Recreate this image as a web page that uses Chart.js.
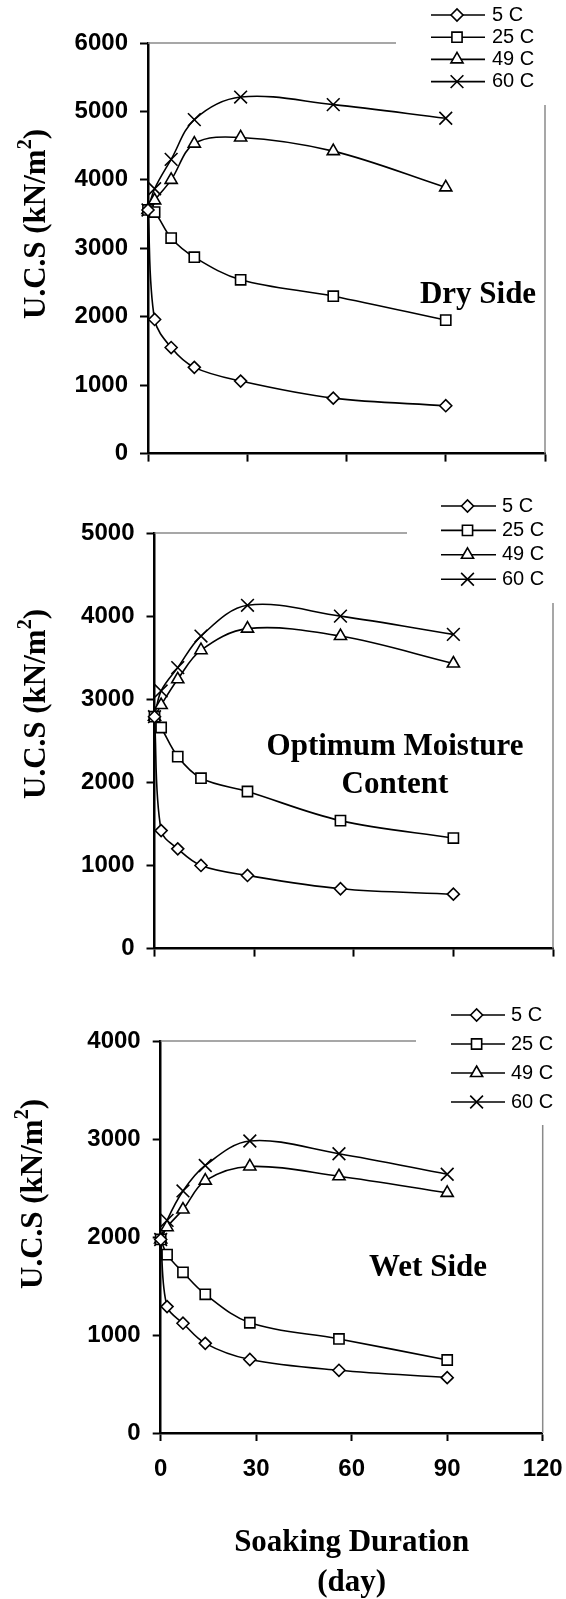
<!DOCTYPE html>
<html>
<head>
<meta charset="utf-8">
<script src="https://cdn.jsdelivr.net/npm/chart.js"></script>
<style>
    html, body { margin: 0; padding: 0; background: #fff; overflow: hidden; }
    #lienzo { position: relative; width: 566px; height: 1599px; overflow: hidden; }
    canvas { position: absolute; left: 0; }
</style>
</head>
<body>
<div id="lienzo">
    <canvas id="graf1"></canvas>
    <canvas id="graf2"></canvas>
    <canvas id="graf3"></canvas>
</div>
<script>
// 📊 datos (U.C.S en kN/m2 vs días de inmersión)
const dias = [0, 2, 7, 14, 28, 56, 90];
const temperaturas = ["5 C", "25 C", "49 C", "60 C"];
const ticksDias = [0, 30, 60, 90, 120];
const maximosY = [6000, 5000, 4000];

// Dry Side
const seco5C  = [3560, 1960, 1550, 1260, 1060, 810, 700];
const seco25C = [3560, 3530, 3150, 2870, 2540, 2300, 1950];
const seco49C = [3560, 3700, 4000, 4530, 4620, 4420, 3890];
const seco60C = [3560, 3870, 4300, 4880, 5210, 5100, 4900];

// Optimum Moisture Content
const optimo5C  = [2790, 1420, 1200, 1000, 880, 720, 655];
const optimo25C = [2790, 2660, 2310, 2050, 1890, 1540, 1330];
const optimo49C = [2790, 2930, 3240, 3590, 3850, 3760, 3430];
const optimo60C = [2790, 3100, 3380, 3760, 4130, 4000, 3780];

// Wet Side
const humedo5C  = [1975, 1290, 1120, 915, 750, 640, 565];
const humedo25C = [1975, 1820, 1640, 1415, 1125, 960, 745];
const humedo49C = [1975, 2100, 2280, 2575, 2720, 2620, 2450];
const humedo60C = [1975, 2170, 2470, 2730, 2980, 2850, 2640];

// textos
const tituloEjeY = ["U.C.S (kN/m", "2", ")"];
const tituloEjeX = ["Soaking Duration", "(day)"];
const notas = [["Dry Side"], ["Optimum Moisture", "Content"], ["Wet Side"]];

// 🔥 estilo de marcadores (rombo, cuadrado, triangulo, x)
const marcadores = ["rectRot", "rect", "triangle", "crossRot"];
const radios = [6, 7.2, 7, 9];

const fuenteTicks = { family: "'Liberation Sans', Arial, sans-serif", weight: "bold", size: 24 };
const serif = "'Liberation Serif', 'Times New Roman', serif";

// 📐 posiciones de cada panel (px de la figura)
const paneles = [
    {
        id: "graf1", top: 0, alto: 480, yMax: maximosY[0],
        valores: [seco5C, seco25C, seco49C, seco60C],
        area: { l: 148, r: 545, t: 43, b: 470 },
        finGrisX: 396, inicioGrisY: 105,
        leyenda: { x0: 431, x1: 485, xm: 457, xt: 492, y0: 15, paso: 22.2 },
        titulo: { x: 45, y: 224 },
        notas: notas[0], notaX: 478, notaY: [295],
        etiquetasX: false
    },
    {
        id: "graf2", top: 480, alto: 495, yMax: maximosY[1],
        valores: [optimo5C, optimo25C, optimo49C, optimo60C],
        area: { l: 154.5, r: 553, t: 53, b: 484 },
        finGrisX: 407, inicioGrisY: 123,
        leyenda: { x0: 441, x1: 496, xm: 467.5, xt: 502, y0: 26, paso: 24.4 },
        titulo: { x: 45, y: 224 },
        notas: notas[1], notaX: 395, notaY: [267, 305],
        etiquetasX: false
    },
    {
        id: "graf3", top: 975, alto: 628, yMax: maximosY[2],
        valores: [humedo5C, humedo25C, humedo49C, humedo60C],
        area: { l: 160.7, r: 542.7, t: 66, b: 458 },
        finGrisX: 416, inicioGrisY: 150,
        leyenda: { x0: 451, x1: 505, xm: 476.6, xt: 511, y0: 40, paso: 29 },
        titulo: { x: 42, y: 219 },
        notas: notas[2], notaX: 428, notaY: [293],
        etiquetasX: true
    }
];

// 🔥 plugin: bordes grises, titulo del eje y, notas y leyenda
function decoracion(p) {
    return {
        id: "decoracion",
        beforeDatasetsDraw(chart) {
            const ctx = chart.ctx;
            const a = chart.chartArea;
            ctx.save();
            ctx.strokeStyle = "#8a8a8a";
            ctx.lineWidth = 1.5;
            ctx.beginPath();
            ctx.moveTo(a.left, a.top);
            ctx.lineTo(p.finGrisX, a.top);
            ctx.moveTo(a.right, p.inicioGrisY);
            ctx.lineTo(a.right, a.bottom);
            ctx.stroke();
            ctx.restore();
        },
        afterDraw(chart) {
            const ctx = chart.ctx;
            ctx.save();
            ctx.fillStyle = "#000";

            // titulo eje Y con superindice
            ctx.save();
            ctx.translate(p.titulo.x, p.titulo.y);
            ctx.rotate(-Math.PI / 2);
            ctx.textBaseline = "alphabetic";
            ctx.textAlign = "left";
            let partes = [
                { t: tituloEjeY[0], f: "bold 31px " + serif, dy: 0 },
                { t: tituloEjeY[1], f: "bold 20px " + serif, dy: -14 },
                { t: tituloEjeY[2], f: "bold 31px " + serif, dy: 0 }
            ];
            let total = 0;
            partes.forEach(pt => {
                ctx.font = pt.f;
                pt.w = ctx.measureText(pt.t).width;
                total += pt.w;
            });
            let cx = -total / 2;
            partes.forEach(pt => {
                ctx.font = pt.f;
                ctx.fillText(pt.t, cx, pt.dy);
                cx += pt.w;
            });
            ctx.restore();

            // notas dentro del grafico
            ctx.font = "bold 31px " + serif;
            ctx.textAlign = "center";
            ctx.textBaseline = "middle";
            p.notas.forEach((txt, i) => {
                ctx.fillText(txt, p.notaX, p.notaY[i]);
            });

            // leyenda
            const L = p.leyenda;
            chart.data.datasets.forEach((ds, i) => {
                let y = L.y0 + i * L.paso;
                ctx.strokeStyle = "#000";
                ctx.lineWidth = 1.6;
                ctx.beginPath();
                ctx.moveTo(L.x0, y);
                ctx.lineTo(L.x1, y);
                ctx.stroke();

                ctx.fillStyle = "#fff";
                ctx.lineWidth = ds.pointBorderWidth;
                Chart.helpers.drawPoint(ctx, {
                    pointStyle: ds.pointStyle,
                    radius: ds.pointRadius,
                    borderWidth: ds.pointBorderWidth,
                    rotation: 0
                }, L.xm, y);

                ctx.fillStyle = "#000";
                ctx.font = "20px 'Liberation Sans', Arial, sans-serif";
                ctx.textAlign = "left";
                ctx.textBaseline = "middle";
                ctx.fillText(ds.label, L.xt, y);
            });
            ctx.restore();
        }
    };
}

function crearPanel(p) {
    let canvas = document.getElementById(p.id);
    canvas.width = 566;
    canvas.height = p.alto;
    canvas.style.top = p.top + "px";
    canvas.style.width = "566px";
    canvas.style.height = p.alto + "px";

    let datasets = p.valores.map((vals, i) => ({
        label: temperaturas[i],
        data: dias.map((d, j) => ({ x: d, y: vals[j] })),
        borderColor: "#000",
        borderWidth: 1.6,
        backgroundColor: "#fff",
        pointStyle: marcadores[i],
        pointRadius: radios[i],
        pointBorderWidth: 1.6,
        pointBackgroundColor: "#fff",
        pointBorderColor: "#000",
        tension: 0.35,
        fill: false,
        clip: false
    }));

    return new Chart(canvas, {
        type: "line",
        data: { datasets: datasets },
        options: {
            responsive: false,
            animation: false,
            devicePixelRatio: 1,
            events: [],
            layout: { padding: { top: p.area.t, left: 0, right: 566 - p.area.r, bottom: 0 } },
            plugins: {
                legend: { display: false },
                tooltip: { enabled: false }
            },
            scales: {
                x: {
                    type: "linear",
                    min: ticksDias[0],
                    max: ticksDias[ticksDias.length - 1],
                    afterBuildTicks: s => { s.ticks = ticksDias.map(v => ({ value: v })); },
                    afterFit: s => {
                        s.height = p.alto - p.area.b;
                        s.paddingLeft = 0;
                        s.paddingRight = 0;
                    },
                    ticks: { display: p.etiquetasX, font: fuenteTicks, color: "#000", padding: 14, maxRotation: 0,
                             callback: v => String(v) },
                    grid: { drawOnChartArea: false, drawTicks: true, tickLength: 8, tickWidth: 2, tickColor: "#000" },
                    border: { display: true, color: "#000", width: 2.5 },
                    title: {
                        display: p.etiquetasX,
                        text: tituloEjeX,
                        color: "#000",
                        font: { family: serif, weight: "bold", size: 31, lineHeight: 1.29 },
                        padding: { top: 0, bottom: 0 }
                    }
                },
                y: {
                    min: 0,
                    max: p.yMax,
                    afterFit: s => { s.width = p.area.l; },
                    ticks: { stepSize: 1000, font: fuenteTicks, color: "#000", padding: 12,
                             callback: v => String(v) },
                    grid: { drawOnChartArea: false, drawTicks: true, tickLength: 8, tickWidth: 2, tickColor: "#000" },
                    border: { display: true, color: "#000", width: 2.5 }
                }
            }
        },
        plugins: [decoracion(p)]
    });
}

// init
paneles.forEach(p => crearPanel(p));
</script>
</body>
</html>
